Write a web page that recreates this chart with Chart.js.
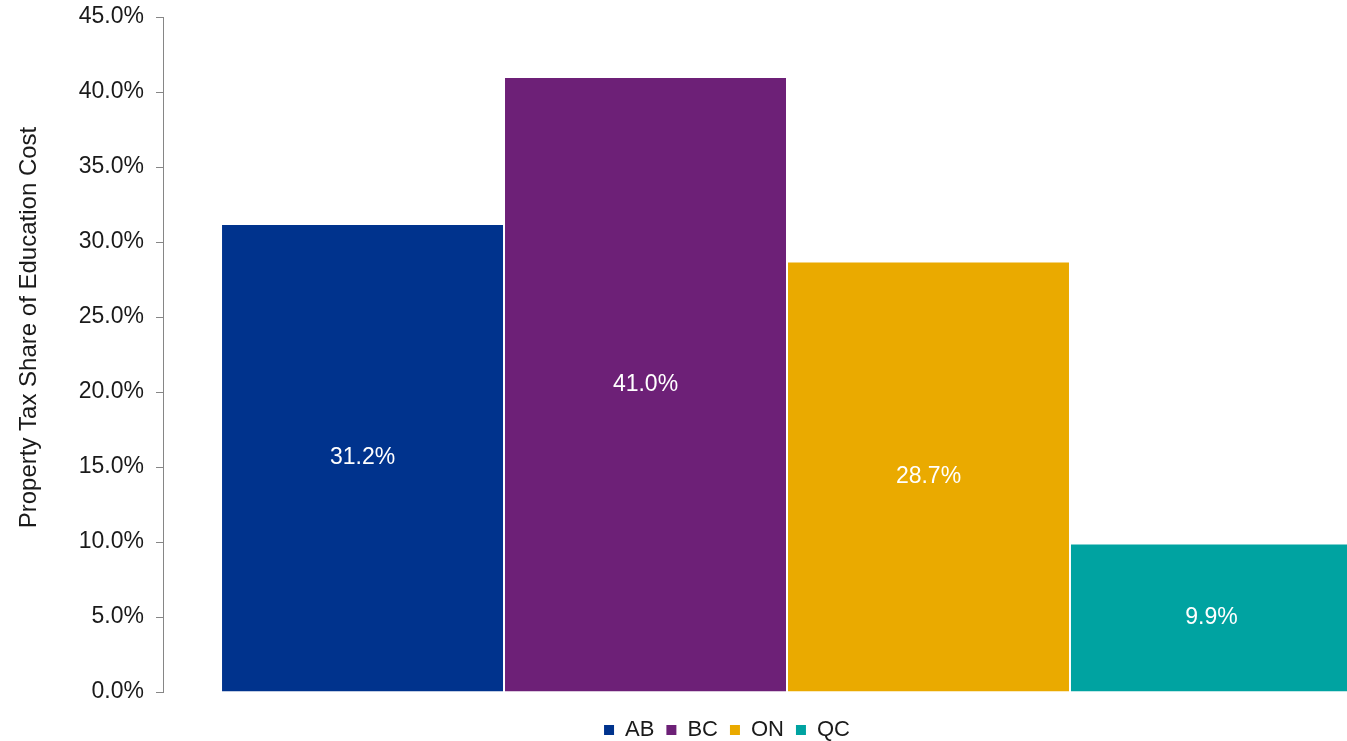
<!DOCTYPE html>
<html>
<head>
<meta charset="utf-8">
<script src="https://cdn.jsdelivr.net/npm/chart.js@4/dist/chart.umd.min.js"></script>
<style>
  html, body { margin: 0; padding: 0; background: #fff; overflow: hidden; }
  #wrap { width: 1347px; height: 741px; overflow: hidden; position: relative; }
  canvas { display: block; }
</style>
</head>
<body>
<div id="wrap"><canvas id="chart" width="1454" height="751"></canvas></div>
<script>
// Provinces and their property-tax share of education cost (%)
const provinces = ['AB', 'BC', 'ON', 'QC'];
const shares = [31.2, 41.0, 28.7, 9.9];
const provinceColors = ['#00338D', '#6D2077', '#EAAA00', '#00A3A1'];
const yTicks = { min: 0, max: 45, step: 5 };
const yTitle = 'Property Tax Share of Education Cost';

const FONT = '"Liberation Sans", Arial, sans-serif';
const TEXT_COLOR = '#1a1a1a';

// Writes each bar's value in the middle of the bar
const barValueLabels = {
  id: 'barValueLabels',
  afterDatasetsDraw(chart) {
    const ctx = chart.ctx;
    ctx.save();
    ctx.font = '23px ' + FONT;
    ctx.fillStyle = '#ffffff';
    ctx.textAlign = 'center';
    ctx.textBaseline = 'middle';
    chart.data.datasets.forEach((ds, i) => {
      const meta = chart.getDatasetMeta(i);
      if (meta.hidden) return;
      meta.data.forEach((bar, j) => {
        const v = ds.data[j];
        ctx.fillText(v.toFixed(1) + '%', bar.x, (bar.y + bar.base) / 2);
      });
    });
    ctx.restore();
  }
};

// Rotated value-axis title, sitting a little above the middle of the axis
const valueAxisTitle = {
  id: 'valueAxisTitle',
  afterDraw(chart) {
    const { ctx, chartArea } = chart;
    const cy = (chartArea.top + chartArea.bottom) / 2 - 27;
    ctx.save();
    ctx.translate(29, cy);
    ctx.rotate(-Math.PI / 2);
    ctx.font = '24px ' + FONT;
    ctx.fillStyle = TEXT_COLOR;
    ctx.textAlign = 'center';
    ctx.textBaseline = 'middle';
    ctx.fillText(yTitle, 0, 0);
    ctx.restore();
  }
};

const datasets = provinces.map((p, i) => ({
  label: p,
  data: [shares[i]],
  backgroundColor: provinceColors[i],
  borderColor: '#ffffff',
  borderWidth: 1
}));

new Chart(document.getElementById('chart'), {
  type: 'bar',
  data: { labels: [''], datasets },
  plugins: [barValueLabels, valueAxisTitle],
  options: {
    responsive: false,
    devicePixelRatio: 1,
    animation: false,
    layout: { padding: { left: 43, right: 43, top: 17, bottom: 0 } },
    datasets: { bar: { categoryPercentage: 0.907, barPercentage: 1.0 } },
    scales: {
      x: {
        display: true,
        grid: { display: false },
        border: { display: false },
        ticks: { display: false },
        afterFit(scale) { scale.height = 15; }
      },
      y: {
        min: yTicks.min,
        max: yTicks.max,
        ticks: {
          stepSize: yTicks.step,
          padding: 12,
          color: TEXT_COLOR,
          font: { family: FONT, size: 23 },
          callback: v => v.toFixed(1) + '%'
        },
        grid: { display: true, drawOnChartArea: false, drawTicks: true, tickLength: 7, color: '#868686' },
        border: { display: true, color: '#868686', width: 1 },
        title: { display: false },
        afterFit(scale) {
          scale.width = 120;
          scale.paddingTop = 0;
          scale.paddingBottom = 0;
        }
      }
    },
    plugins: {
      tooltip: { enabled: false },
      legend: {
        position: 'bottom',
        labels: {
          color: TEXT_COLOR,
          font: { family: FONT, size: 22 },
          boxWidth: 10,
          boxHeight: 10,
          padding: 12,
          generateLabels(chart) {
            return Chart.defaults.plugins.legend.labels.generateLabels(chart)
              .map(item => Object.assign(item, { lineWidth: 0, strokeStyle: item.fillStyle }));
          }
        }
      }
    }
  }
});
</script>
</body>
</html>
